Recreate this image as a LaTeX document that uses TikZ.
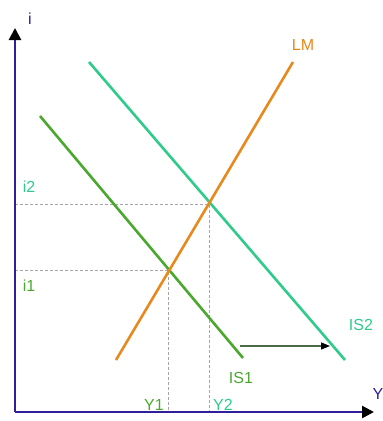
\documentclass[tikz,border=0pt]{standalone}
\usepackage{fontspec}
\setmainfont{Liberation Sans}
\usetikzlibrary{arrows.meta}
\definecolor{axisblue}{HTML}{2E1F9A}
\definecolor{lmorange}{HTML}{E8891E}
\definecolor{isone}{HTML}{4BA82E}
\definecolor{istwo}{HTML}{2FCB8A}
\definecolor{shiftc}{HTML}{4A6A4A}
\tikzset{
  axisline/.style={draw=axisblue, line width=2.6pt, -{Triangle[length=12pt,width=12pt,color=black]}},
  curve/.style={line width=2.6pt},
  guide/.style={draw=gray!70, line width=0.8pt, dash pattern=on 3pt off 2pt},
  lbl/.style={font=\fontsize{16}{16}\selectfont, inner sep=0pt}
}
\begin{document}
\begin{tikzpicture}[x=1pt,y=-1pt]
\useasboundingbox (0,0) rectangle (383,421);
\coordinate (O) at (15,412);
\coordinate (ytop) at (15,28);
\coordinate (xend) at (374,412);
% curves
\coordinate (lma) at (116,360); \coordinate (lmb) at (293,62);
\coordinate (isa) at (40,116); \coordinate (isb) at (243,358);
\coordinate (isc) at (89,62); \coordinate (isd) at (345,360);
\coordinate (E1) at (168.5,270);
\coordinate (E2) at (209,204);
\coordinate (i1) at (15,270); \coordinate (i2) at (15,204);
\coordinate (y1) at (168.5,412); \coordinate (y2) at (209,412);
\draw[guide] (i2) -- (E2) -- (y2);
\draw[guide] (i1) -- (E1) -- (y1);
\draw[curve, isone] (isa) -- (isb);
\draw[curve, istwo] (isc) -- (isd);
\draw[curve, lmorange] (lma) -- (lmb);
\coordinate (sa) at (240,346); \coordinate (sb) at (330,346);
\draw[shiftc, line width=1.3pt, -{Triangle[length=9pt,width=7pt,color=black]}] (sa) -- (sb);
\draw[axisline] (O) -- (ytop);
\draw[axisline] (O) -- (xend);
% labels
\node[lbl, text=axisblue] (li) at (30,19) {i};
\node[lbl, text=axisblue] (lY) at (378,394) {Y};
\node[lbl, text=lmorange] (lLM) at (303,45) {LM};
\node[lbl, text=isone] (lIS1) at (241,378) {IS1};
\node[lbl, text=istwo] (lIS2) at (361,325) {IS2};
\node[lbl, text=istwo] (li2) at (29,187) {i2};
\node[lbl, text=isone] (li1) at (29,286) {i1};
\node[lbl, text=isone] (lY1) at (154,405) {Y1};
\node[lbl, text=istwo] (lY2) at (223,405) {Y2};
\end{tikzpicture}
\end{document}
